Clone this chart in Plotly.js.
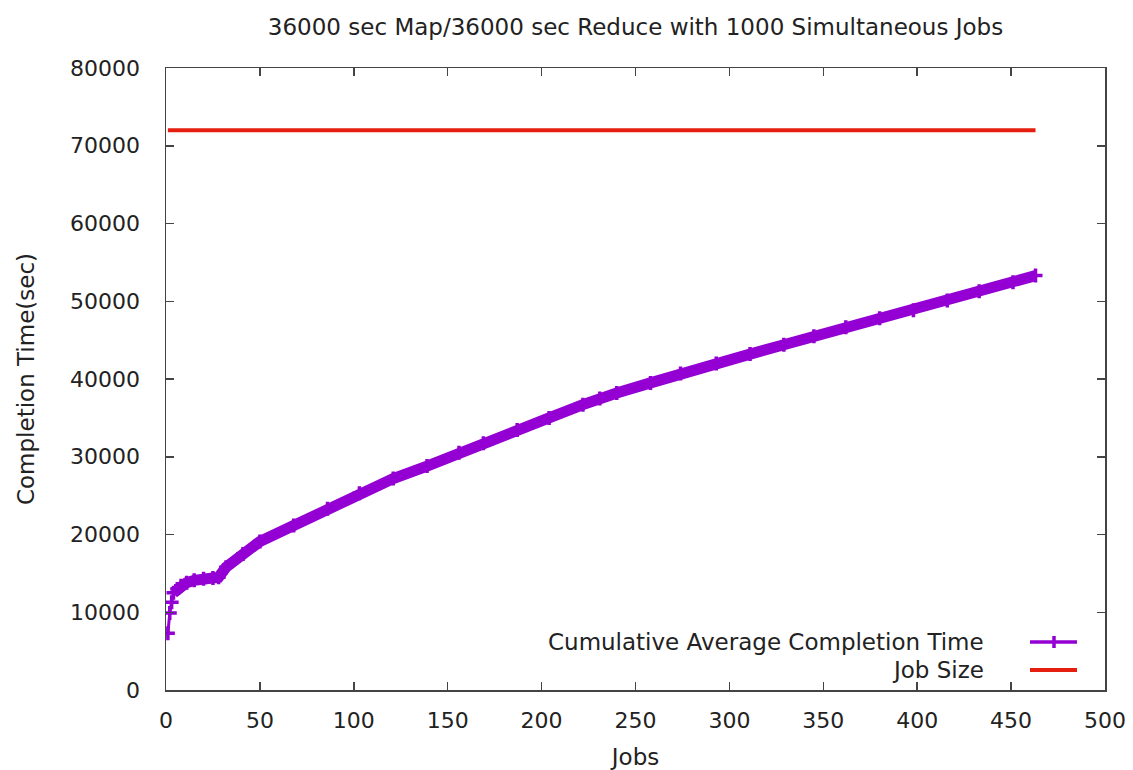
<!DOCTYPE html>
<html>
<head>
<meta charset="utf-8">
<script src="https://cdn.plot.ly/plotly-3.0.1.min.js"></script>
<style>html,body{margin:0;padding:0;background:#fff;}#chart{width:1133px;height:770px;}</style>
</head>
<body>
<div id="chart"></div>
<script>
// Data
const jobs = [1, 2, 3, 4, 6, 8, 11, 15, 20, 25, 28, 32, 41, 50, 68, 86, 103, 121, 139, 156, 169, 187, 204, 222, 231, 240, 258, 274, 293, 311, 329, 345, 362, 380, 398, 416, 433, 451, 463];
const avgCompletion = [7300, 9900, 11300, 12500, 13000, 13400, 13800, 14100, 14300, 14400, 14500, 15800, 17500, 19100, 21150, 23300, 25300, 27200, 28800, 30500, 31750, 33450, 35000, 36700, 37500, 38200, 39500, 40700, 42000, 43200, 44400, 45500, 46650, 47800, 48850, 50100, 51300, 52450, 53300];
const jobSizeX = [1, 463];
const jobSizeY = [72000, 72000];
const seriesNames = ["Cumulative Average Completion Time", "Job Size"];
const xTicks = [0, 50, 100, 150, 200, 250, 300, 350, 400, 450, 500];
const yTicks = [0, 10000, 20000, 30000, 40000, 50000, 60000, 70000, 80000];

const purple = "#9400d3";
const red = "#e51e10";
const font = "DejaVu Sans, Verdana, sans-serif";
const txt = "#222";

const traces = [
  {x: jobs.slice(3), y: avgCompletion.slice(3), mode: "lines", line: {color: purple, width: 11}, showlegend: false, hoverinfo: "skip"},
  {x: jobs, y: avgCompletion, mode: "lines+markers", name: seriesNames[0],
   line: {color: purple, width: 3},
   marker: {symbol: "cross-thin", size: 10, color: purple, line: {color: purple, width: 3.5}}, showlegend: false},
  {x: jobSizeX, y: jobSizeY, mode: "lines", name: seriesNames[1], line: {color: red, width: 4}, showlegend: false}
];

// manual legend (text left of symbol, like the reference)
const px = v => (v - 166) / 939;
const py = v => (690 - v) / 622;
const shapes = [
  {type: "line", xref: "paper", yref: "paper", x0: px(1030), x1: px(1077), y0: py(642), y1: py(642), line: {color: purple, width: 3.5}},
  {type: "line", xref: "paper", yref: "paper", x0: px(1054), x1: px(1054), y0: py(636), y1: py(648), line: {color: purple, width: 3.5}},
  {type: "line", xref: "paper", yref: "paper", x0: px(1030), x1: px(1077), y0: py(670), y1: py(670), line: {color: red, width: 4}}
];
const annotations = [
  {xref: "paper", yref: "paper", x: px(986), y: py(642), xanchor: "right", yanchor: "middle", showarrow: false, text: seriesNames[0], font: {family: font, size: 23, color: txt}},
  {xref: "paper", yref: "paper", x: px(986), y: py(670), xanchor: "right", yanchor: "middle", showarrow: false, text: seriesNames[1], font: {family: font, size: 23, color: txt}}
];

const axisCommon = {
  showline: true, linecolor: "#444", linewidth: 1.5, mirror: "ticks",
  ticks: "inside", ticklen: 8, tickwidth: 1.5, tickcolor: "#444",
  showgrid: false, zeroline: false,
  tickfont: {family: font, size: 22, color: txt}
};

const layout = {
  width: 1133, height: 770,
  margin: {l: 166, r: 28, t: 68, b: 80},
  paper_bgcolor: "#fff", plot_bgcolor: "#fff",
  title: {text: "36000 sec Map/36000 sec Reduce with 1000 Simultaneous Jobs", font: {family: font, size: 23, color: txt}, xref: "paper", x: 0.5, xanchor: "center", y: 0.965, yanchor: "middle"},
  xaxis: Object.assign({}, axisCommon, {
    range: [0, 500], tickvals: xTicks, ticktext: xTicks.map(String), ticklabelstandoff: 10,
    title: {text: "Jobs", font: {family: font, size: 23, color: txt}, standoff: 19}
  }),
  yaxis: Object.assign({}, axisCommon, {
    range: [0, 80000], tickvals: yTicks, ticktext: yTicks.map(String), ticklabelstandoff: 20,
    title: {text: "Completion Time(sec)", font: {family: font, size: 23, color: txt}, standoff: 29}
  }),
  shapes: shapes,
  annotations: annotations,
  showlegend: false
};

Plotly.newPlot("chart", traces, layout, {displayModeBar: false, staticPlot: true});
</script>
</body>
</html>
